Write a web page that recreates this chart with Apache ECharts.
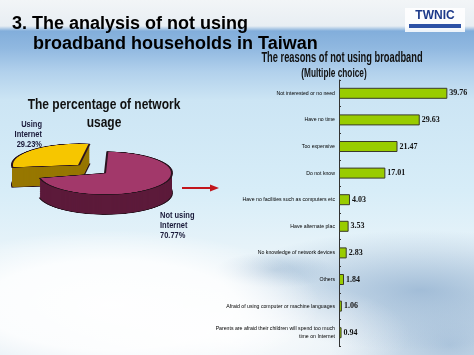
<!DOCTYPE html>
<html>
<head>
<meta charset="utf-8">
<script src="https://cdn.jsdelivr.net/npm/echarts@6/dist/echarts.min.js"></script>
<style>
html, body { margin: 0; padding: 0; }
body {
  width: 474px; height: 355px; overflow: hidden; position: relative;
  background:
    radial-gradient(ellipse 210px 75px at 110px 305px, rgba(255,255,255,0.97) 0, rgba(255,255,255,0.85) 60%, rgba(255,255,255,0) 100%),
    radial-gradient(ellipse 180px 60px at 230px 335px, rgba(255,255,255,0.9) 0, rgba(255,255,255,0) 100%),
    radial-gradient(ellipse 200px 60px at 420px 290px, rgba(140,172,205,0.75) 0, rgba(140,172,205,0) 100%),
    radial-gradient(ellipse 120px 60px at 450px 345px, rgba(150,180,210,0.7) 0, rgba(150,180,210,0) 100%),
    radial-gradient(ellipse 60px 18px at 275px 270px, rgba(140,170,200,0.5) 0, rgba(140,170,200,0) 100%),
    linear-gradient(to bottom, #f2f5f7 0px, #e8eef3 26px, #82aedb 31px, #90b8e0 48px, #b2d1ec 72px, #cce5f4 100px, #d7edf8 190px, #e7f3f9 250px, #e4eef5 355px);
}
#main { position: absolute; left: 0; top: 0; width: 474px; height: 355px; }
#pie { position: absolute; left: 0; top: 0; width: 230px; height: 700px; transform: scaleY(0.32); transform-origin: 0 0; }
</style>
</head>
<body>
<div id="main"></div>
<div id="pie"></div>
<script>
var categories = [
  'Not interested or no need',
  'Have no time',
  'Too expensive',
  'Do not know',
  'Have no facilities such as computers etc',
  'Have alternate plac',
  'No knowledge of network devices',
  'Others',
  'Afraid of using computer or machine languages',
  'Parents are afraid their children will spend too much\ntime on Internet'
]
var values = [39.76, 29.63, 21.47, 17.01, 4.03, 3.53, 2.83, 1.84, 1.06, 0.94]

var pieNames = ['Not using\nInternet', 'Using\nInternet']
var pieValues = [70.77, 29.23]

var sans = '"Liberation Sans", Arial, sans-serif'

var mainChart = echarts.init(document.getElementById('main'))
mainChart.setOption({
  animation: false,
  grid: { left: 339, top: 80, width: 109, height: 266 },
  xAxis: { type: 'value', min: 0, max: 40, show: false },
  yAxis: {
    type: 'category',
    data: categories,
    inverse: true,
    axisLine: { lineStyle: { color: '#333', width: 1 } },
    axisTick: { show: true, inside: true, length: 2, lineStyle: { color: '#333' } },
    axisLabel: { fontSize: 5.2, fontFamily: sans, color: '#000', margin: 4, lineHeight: 8, align: 'right' }
  },
  series: [{
    type: 'bar',
    data: values,
    barWidth: 11,
    itemStyle: { color: '#99cc00', borderColor: '#3a3a2a', borderWidth: 1 },
    label: {
      show: true, position: 'right', distance: 2,
      fontFamily: '"Liberation Serif", serif', fontWeight: 'bold', fontSize: 8, color: '#111',
      formatter: function (p) { return p.value.toFixed(2) }
    }
  }],
  graphic: [
    { type: 'text', x: 12, y: 15, style: { text: '3. The analysis of not using', fontSize: 18, fontWeight: 'bold', fontFamily: sans, fill: '#000' } },
    { type: 'text', x: 33, y: 35, style: { text: 'broadband households in Taiwan', fontSize: 18, fontWeight: 'bold', fontFamily: sans, fill: '#000' } },
    { type: 'text', x: 342, y: 58, scaleX: 0.62, style: { text: 'The reasons of not using broadband', fontSize: 15, fontWeight: 'bold', fontFamily: sans, fill: '#111', align: 'center', verticalAlign: 'middle' } },
    { type: 'text', x: 334, y: 74, scaleX: 0.69, style: { text: '(Multiple choice)', fontSize: 12, fontWeight: 'bold', fontFamily: sans, fill: '#111', align: 'center', verticalAlign: 'middle' } },
    { type: 'text', x: 104, y: 105, scaleX: 0.8, style: { text: 'The percentage of network', fontSize: 15, fontWeight: 'bold', fontFamily: sans, fill: '#111', align: 'center', verticalAlign: 'middle' } },
    { type: 'text', x: 104, y: 123, scaleX: 0.8, style: { text: 'usage', fontSize: 15, fontWeight: 'bold', fontFamily: sans, fill: '#111', align: 'center', verticalAlign: 'middle' } },
    { type: 'text', x: 42, y: 120, scaleX: 0.88, style: { text: pieNames[1] + '\n' + pieValues[1].toFixed(2) + '%', fontSize: 8.5, lineHeight: 10, fontWeight: 'bold', fontFamily: sans, fill: '#1a1a3a', align: 'right' } },
    { type: 'text', x: 160, y: 211, scaleX: 0.88, style: { text: pieNames[0] + '\n' + pieValues[0].toFixed(2) + '%', fontSize: 8.5, lineHeight: 10, fontWeight: 'bold', fontFamily: sans, fill: '#1a1a3a', align: 'left' } },
    { type: 'line', shape: { x1: 182, y1: 188, x2: 212, y2: 188 }, style: { stroke: '#c2161c', lineWidth: 2 } },
    { type: 'polygon', shape: { points: [[210, 184.5], [219, 188], [210, 191.5]] }, style: { fill: '#c2161c' } },
    // logo
    { type: 'rect', shape: { x: 405, y: 8, width: 60, height: 24 }, style: { fill: 'rgba(255,255,255,0.85)' } },
    { type: 'text', x: 435, y: 16, style: { text: 'TWNIC', fontSize: 12, fontWeight: 'bold', fontFamily: sans, fill: '#1d3a8a', align: 'center', verticalAlign: 'middle' } },
    { type: 'rect', shape: { x: 409, y: 24, width: 52, height: 4 }, style: { fill: '#2d52a6' } }
  ]
})

// pseudo 3D pie: squashed by css, thickness from stacked layers
var pieChart = echarts.init(document.getElementById('pie'))
var cx = 105, cy = 541, depth = 62, r = 67
var topColors = ['#a2386a', '#f6c600']
var sideColors = ['#5c1a3a', '#977700']
// slice placement (yellow one pulled out): [x, y, startAngle]
var place = [[cx, cy, 88], [cx - 26, cy - 25, 81]]

function layer(idx, y, color, border) {
  return {
    type: 'pie',
    radius: r,
    center: [place[idx][0], y],
    startAngle: place[idx][2],
    clockwise: true,
    silent: true,
    label: { show: false },
    labelLine: { show: false },
    emphasis: { disabled: true },
    data: pieValues.map(function (v, i) {
      return {
        value: v,
        name: pieNames[i],
        itemStyle: i === idx
          ? { color: color, borderColor: border ? '#2b1420' : color, borderWidth: border ? 2 : 0 }
          : { color: 'rgba(0,0,0,0)', borderWidth: 0 }
      }
    })
  }
}

var series = []
// yellow slice first, then maroon in front
;[1, 0].forEach(function (idx) {
  var y0 = place[idx][1]
  for (var d = depth; d > 0; d -= 2) {
    series.push(layer(idx, y0 + d, sideColors[idx], d === depth))
  }
  series.push(layer(idx, y0, topColors[idx], true))
})

pieChart.setOption({ animation: false, series: series })
</script>
</body>
</html>
